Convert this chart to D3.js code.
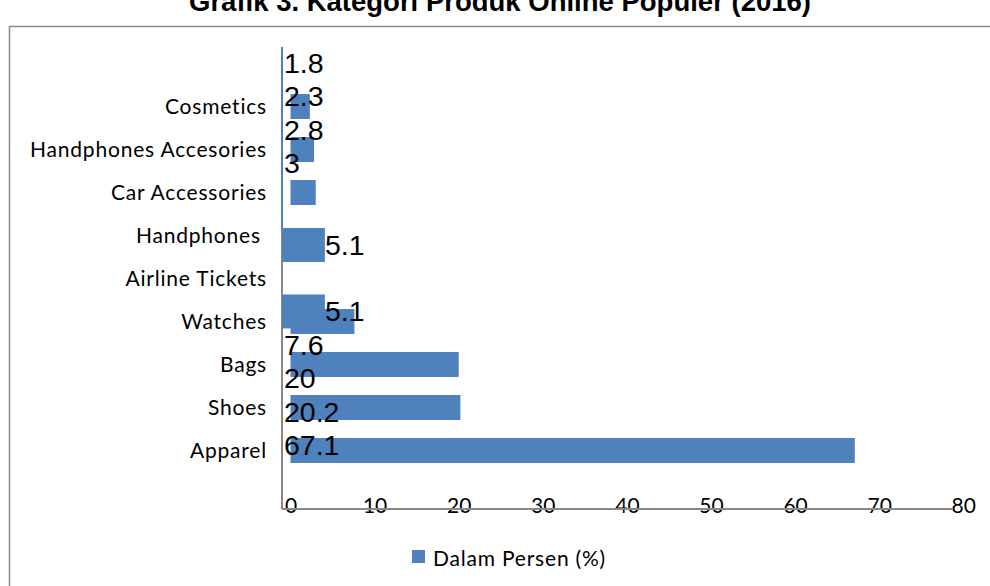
<!DOCTYPE html>
<html>
<head>
<meta charset="utf-8">
<script src="https://cdn.jsdelivr.net/npm/d3@7"></script>
<style>
    body { margin: 0; background: #fff; }
    svg { display: block; }
    .cat-label { font-family: Lato, 'Noto Sans', sans-serif; font-size: 21px; letter-spacing: 0.8px; fill: #000; white-space: pre; }
    .val-label { font-family: 'Liberation Sans', Arial, sans-serif; font-size: 28.5px; fill: #000; }
    .x-axis text { font-family: Lato, 'Noto Sans', sans-serif; font-size: 21px; fill: #000; }
</style>
</head>
<body>
<div id="chart"></div>
<script>

// categories, top to bottom
const categories = ['Cosmetics', 'Handphones Accesories', 'Car Accessories', 'Handphones ', 'Airline Tickets', 'Watches', 'Bags', 'Shoes', 'Apparel'];

// bars that sit in their own category slot
const barCategories = ['Cosmetics', 'Handphones Accesories', 'Car Accessories', 'Watches', 'Bags', 'Shoes', 'Apparel'];
const barValues = [2.3, 2.8, 3, 7.6, 20, 20.2, 67.1];

// the two 5.1 bars that slipped out of line
const looseCategories = ['Handphones ', 'Airline Tickets'];
const looseValues = [5.1, 5.1];

// data labels stacked along the axis
const stackedLabels = [1.8, 2.3, 2.8, 3, 7.6, 20, 20.2, 67.1];

const xTicks = [0, 10, 20, 30, 40, 50, 60, 70, 80];
const seriesName = 'Dalam Persen (%)';
const chartTitle = 'Grafik 3. Kategori Produk Online Populer (2016)';

const width = 990, height = 586;
const barColor = '#4f81bd';
const axisColor = '#898989';

const svg = d3.select('#chart').append('svg')
    .attr('width', width)
    .attr('height', height);

// outer frame (runs off the right and bottom edge)
svg.append('rect')
    .attr('x', 9.5)
    .attr('y', 26.5)
    .attr('width', 1100)
    .attr('height', 700)
    .attr('fill', 'none')
    .attr('stroke', axisColor)
    .attr('stroke-width', 1.5);

// title, top cut off by the page edge like in the original
svg.append('text')
    .attr('x', 500)
    .attr('y', 11)
    .attr('text-anchor', 'middle')
    .style('font-family', "'Liberation Sans', Arial, sans-serif")
    .style('font-weight', 'bold')
    .style('font-size', '27.5px')
    .text(chartTitle);

// scales
const x = d3.scaleLinear()
    .domain([0, 80])
    .range([290.5, 963.3]);

const xLoose = x.copy().range([282, 282 + (x(80) - x(0))]);

const y = d3.scaleBand()
    .domain(categories)
    .range([85, 472])
    .paddingInner(0.42)
    .paddingOuter(0.21);

const yLoose = d3.scaleBand()
    .domain(looseCategories)
    .range([211.7, 344.7])
    .paddingInner(0.489)
    .paddingOuter(0.2445);

const labelY = d3.scaleLinear()
    .domain([0, 3, 4, 7])
    .range([73, 173, 355, 455]);

const axisY = 509;

// axis lines
svg.append('line')
    .attr('x1', 282).attr('x2', 282)
    .attr('y1', 47).attr('y2', yLoose(looseCategories[0]))
    .attr('stroke', barColor)
    .attr('stroke-width', 2);

svg.append('line')
    .attr('x1', 282).attr('x2', 282)
    .attr('y1', yLoose(looseCategories[0])).attr('y2', axisY)
    .attr('stroke', axisColor)
    .attr('stroke-width', 2);

// bars in their slots
svg.selectAll('.bar')
    .data(barCategories)
    .enter()
    .append('rect')
    .attr('class', 'bar')
    .attr('x', x(0))
    .attr('y', d => y(d))
    .attr('width', (d, i) => x(barValues[i]) - x(0))
    .attr('height', y.bandwidth())
    .attr('fill', barColor);

// loose bars
svg.selectAll('.loose-bar')
    .data(looseCategories)
    .enter()
    .append('rect')
    .attr('class', 'loose-bar')
    .attr('x', xLoose(0))
    .attr('y', d => yLoose(d))
    .attr('width', (d, i) => xLoose(looseValues[i]) - xLoose(0))
    .attr('height', yLoose.bandwidth())
    .attr('fill', barColor);

// x axis
const xAxisGroup = svg.append('g')
    .attr('class', 'x-axis')
    .attr('transform', `translate(0, ${axisY})`)
    .call(d3.axisBottom(x).tickValues(xTicks).tickSize(0).tickFormat(d3.format('')));

xAxisGroup.select('.domain').remove();
xAxisGroup.selectAll('text')
    .attr('y', 4)
    .attr('dy', null);

svg.append('line')
    .attr('x1', 282).attr('x2', 952)
    .attr('y1', axisY).attr('y2', axisY)
    .attr('stroke', axisColor)
    .attr('stroke-width', 2);

// category labels
svg.selectAll('.cat-label.cat')
    .data(categories)
    .enter()
    .append('text')
    .attr('class', 'cat-label cat')
    .attr('x', 267)
    .attr('y', d => y(d) + y.bandwidth() / 2 + 7)
    .attr('text-anchor', 'end')
    .text(d => d);

// stacked data labels
svg.selectAll('.val-label.stacked')
    .data(stackedLabels)
    .enter()
    .append('text')
    .attr('class', 'val-label stacked')
    .attr('x', 284)
    .attr('y', (d, i) => labelY(i))
    .text(d => d);

// labels on the loose bars
svg.selectAll('.val-label.loose')
    .data(looseCategories)
    .enter()
    .append('text')
    .attr('class', 'val-label loose')
    .attr('x', (d, i) => xLoose(looseValues[i]))
    .attr('y', d => yLoose(d) + yLoose.bandwidth() / 2 + 10)
    .text((d, i) => looseValues[i]);

// legend
svg.append('rect')
    .attr('x', 412)
    .attr('y', 550)
    .attr('width', 13)
    .attr('height', 13)
    .attr('fill', barColor);

svg.append('text')
    .attr('class', 'cat-label')
    .attr('x', 433)
    .attr('y', 566)
    .text(seriesName);

</script>
</body>
</html>
